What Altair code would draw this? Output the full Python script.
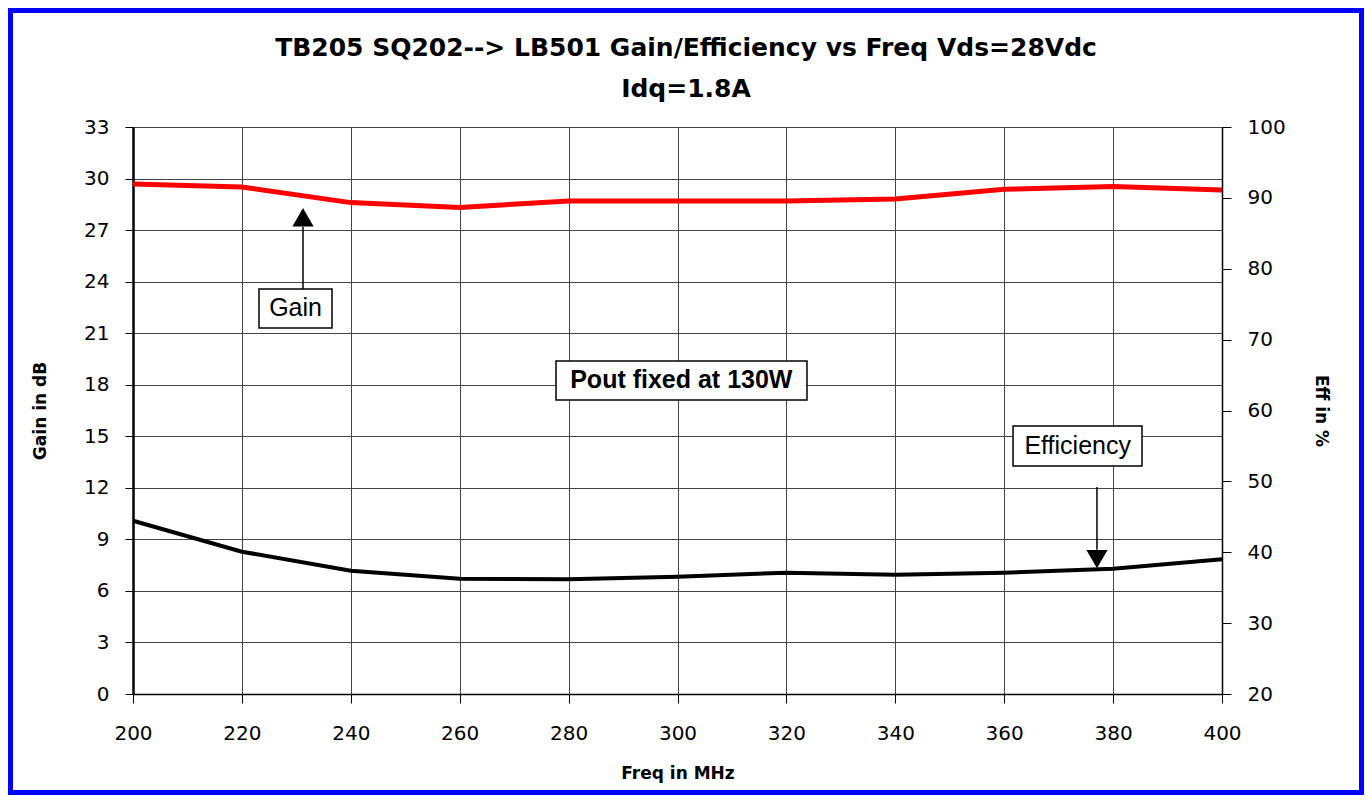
import altair as alt
import pandas as pd

# ---- data ----
freq = [200, 220, 240, 260, 280, 300, 320, 340, 360, 380, 400]
gain_db = [29.68, 29.51, 28.60, 28.32, 28.69, 28.69, 28.69, 28.81, 29.37, 29.53, 29.33]
eff_pct = [44.45, 40.08, 37.40, 36.27, 36.18, 36.55, 37.12, 36.84, 37.12, 37.68, 39.00]

gain_ticks = list(range(0, 34, 3))
eff_ticks = list(range(20, 101, 10))

title_lines = ["TB205 SQ202--> LB501 Gain/Efficiency vs Freq Vds=28Vdc", "Idq=1.8A"]

# annotation labels (anchored in freq / gain coordinates)
note_text = ["Gain", "Pout fixed at 130W", "Efficiency"]
note_weight = ["normal", "bold", "normal"]
note_x = [229.85, 300.7, 373.5]
note_y = [22.44, 18.25, 14.43]
box_x1 = [223.14, 277.69, 361.62]
box_x2 = [236.55, 323.78, 385.31]
box_y1 = [21.30, 17.11, 13.27]
box_y2 = [23.57, 19.38, 15.60]

arrow_x = [231.22, 377.04]
arrow_y1 = [23.57, 12.05]
arrow_y2 = [27.20, 8.40]
head_y = [27.75, 7.85]
head_shape = ["triangle-up", "triangle-down"]

df = pd.DataFrame({"freq": freq, "gain": gain_db, "eff": eff_pct})
notes = pd.DataFrame({"text": note_text, "weight": note_weight, "x": note_x, "y": note_y,
                      "x1": box_x1, "x2": box_x2, "y1": box_y1, "y2": box_y2})
arrows = pd.DataFrame({"x": arrow_x, "y1": arrow_y1, "y2": arrow_y2, "hy": head_y, "shape": head_shape})

W, H = 1089, 567
PL, PT, PR, PB = 125, 119, 142, 101

xs = alt.Scale(domain=[200, 400], nice=False, zero=False)
ygs = alt.Scale(domain=[0, 33], nice=False, zero=False)
yes = alt.Scale(domain=[20, 100], nice=False, zero=False)

LABEL_FONT = "DejaVu Sans"
TITLE_FONT = "DejaVu Sans"

x_axis = alt.Axis(values=freq, title="Freq in MHz", grid=True, gridColor="#444444", gridWidth=1,
                  tickSize=9, tickColor="black", labelPadding=20, labelFont=LABEL_FONT,
                  labelFontSize=20, labelColor="black", domainColor="black", domainWidth=1.5,
                  titleFont=TITLE_FONT, titleFontSize=17, titleFontWeight="bold",
                  titlePadding=22, titleColor="black", labelFlush=False)
yg_axis = alt.Axis(values=gain_ticks, title="Gain in dB", orient="left", grid=True,
                   gridColor="#444444", gridWidth=1, tickSize=8, tickColor="black",
                   labelPadding=16, labelFont=LABEL_FONT, labelFontSize=20, labelColor="black",
                   domainColor="black", domainWidth=2.5, titleFont=TITLE_FONT, titleFontSize=17,
                   titleFontWeight="bold", titlePadding=34, titleColor="black")
ye_axis = alt.Axis(values=eff_ticks, title="Eff in %", orient="right", grid=False,
                   tickSize=9, tickColor="black", labelPadding=16, labelFont=LABEL_FONT,
                   labelFontSize=20, labelColor="black", domainColor="black", domainWidth=1.5,
                   titleFont=TITLE_FONT, titleFontSize=17, titleFontWeight="bold",
                   titlePadding=26, titleColor="black")

gain_line = alt.Chart(df).mark_line(color="#ff0000", strokeWidth=5).encode(
    x=alt.X("freq:Q", scale=xs, axis=x_axis),
    y=alt.Y("gain:Q", scale=ygs, axis=yg_axis),
)
eff_line = alt.Chart(df).mark_line(color="black", strokeWidth=4).encode(
    x=alt.X("freq:Q", scale=xs),
    y=alt.Y("eff:Q", scale=yes, axis=ye_axis),
)

boxes = alt.Chart(notes).mark_rect(fill="white", stroke="black", strokeWidth=1.5).encode(
    x=alt.X("x1:Q", scale=xs), x2="x2:Q",
    y=alt.Y("y1:Q", scale=ygs, axis=None), y2="y2:Q",
)
texts_n = alt.Chart(notes[notes.weight == "normal"]).mark_text(
    font="Liberation Sans", fontSize=25, color="black", baseline="middle", align="center"
).encode(x=alt.X("x:Q", scale=xs), y=alt.Y("y:Q", scale=ygs, axis=None), text="text:N")
texts_b = alt.Chart(notes[notes.weight == "bold"]).mark_text(
    font="Liberation Sans", fontSize=25, fontWeight="bold", color="black",
    baseline="middle", align="center"
).encode(x=alt.X("x:Q", scale=xs), y=alt.Y("y:Q", scale=ygs, axis=None), text="text:N")

arrow_lines = alt.Chart(arrows).mark_rule(color="black", strokeWidth=1.5).encode(
    x=alt.X("x:Q", scale=xs), y=alt.Y("y1:Q", scale=ygs, axis=None), y2="y2:Q",
)
heads = alt.Chart(arrows).mark_point(filled=True, color="black", opacity=1, size=450).encode(
    x=alt.X("x:Q", scale=xs), y=alt.Y("hy:Q", scale=ygs, axis=None),
    shape=alt.Shape("shape:N", scale=None, legend=None),
)

title1 = alt.Chart(pd.DataFrame({"t": [title_lines[0]]})).mark_text(
    font="DejaVu Sans", fontSize=25, fontWeight="bold", color="black",
    align="center", baseline="alphabetic"
).encode(x=alt.value(553), y=alt.value(-71), text="t:N")
title2 = alt.Chart(pd.DataFrame({"t": [title_lines[1]]})).mark_text(
    font="DejaVu Sans", fontSize=25, fontWeight="bold", color="black",
    align="center", baseline="alphabetic"
).encode(x=alt.value(553), y=alt.value(-30), text="t:N")

frame = alt.Chart(pd.DataFrame({"k": [0]})).mark_rect(
    fill=None, stroke="#0000ff", strokeWidth=5
).encode(
    x=alt.value(-PL + 2.5), x2=alt.value(W + PR - 2.5),
    y=alt.value(-PT + 2.5), y2=alt.value(H + PB - 2.5),
)

chart = alt.layer(
    gain_line, eff_line, boxes, texts_n, texts_b, arrow_lines, heads, title1, title2, frame
).resolve_scale(y="independent").properties(
    width=W, height=H,
    autosize=alt.AutoSizeParams(type="none"),
    padding={"left": PL, "top": PT, "right": PR, "bottom": PB},
    background="white",
).configure_view(stroke="black", strokeWidth=1)

chart.save("out.html", embed_options={"renderer": "svg", "actions": False})
